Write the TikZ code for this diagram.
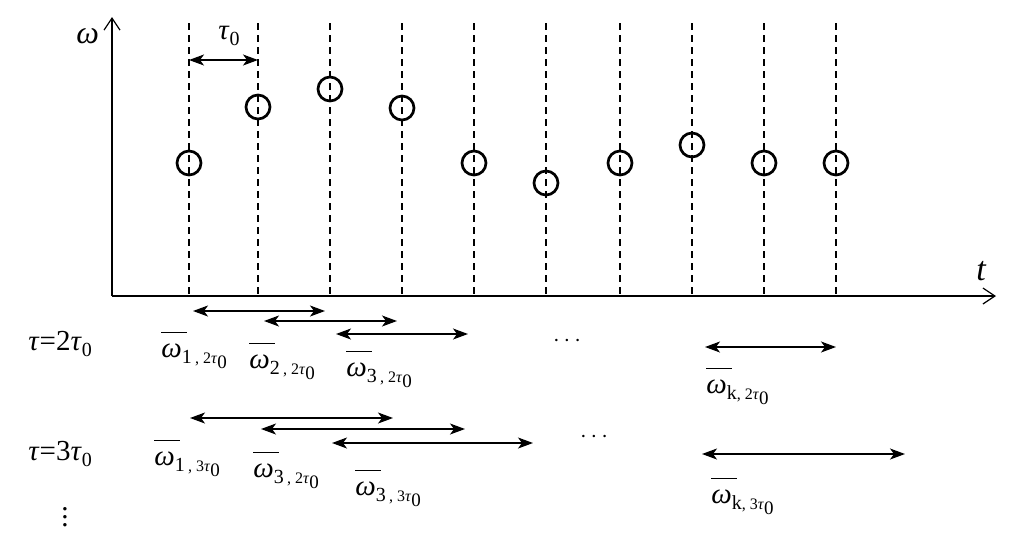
\documentclass[tikz,border=0pt]{standalone}
\usepackage{fontspec}
\setmainfont{Liberation Serif}
\usetikzlibrary{arrows.meta}
\newcommand{\obar}{\makebox[0pt][l]{\hspace{0.0em}\raisebox{0.82em}{\rule{0.88em}{0.6pt}}}\textit{ω}}
\newcommand{\wlab}[2]{\obar\raisebox{-0.22em}{\fontsize{10}{10}\selectfont #1\fontsize{8}{8}\selectfont , #2\textit{τ}\raisebox{-0.3em}{\fontsize{9.5}{9.5}\selectfont 0}}}
\newcommand{\tlab}[1]{\textit{τ}=#1\textit{τ}\raisebox{-0.22em}{\fontsize{10}{10}\selectfont 0}}
\begin{document}
\begin{tikzpicture}[x=0.5pt,y=-0.5pt,
  axis/.style={line width=0.7pt,-{Straight Barb[length=6pt,width=8pt,line width=0.6pt]}},
  grid/.style={line width=0.55pt,dash pattern=on 3.5pt off 2.5pt},
  pt/.style={circle,draw,line width=1.35pt,minimum size=12pt,inner sep=0pt},
  dbl/.style={line width=0.65pt,{Stealth[length=7.5pt,width=5.5pt,inset=2pt]}-{Stealth[length=7.5pt,width=5.5pt,inset=2pt]}},
  lbl/.style={font=\fontsize{14.5}{17}\selectfont,inner sep=0pt,anchor=base west},
  lblc/.style={font=\fontsize{14.5}{17}\selectfont,inner sep=0pt}]
\useasboundingbox (0,0) rectangle (1023,537);
% axes
\coordinate (O) at (112,296);
\coordinate (Ytop) at (112,17);
\coordinate (Xend) at (996,296);
\draw[axis] (O) -- (Ytop);
\draw[axis] (O) -- (Xend);
\node[lbl,font=\fontsize{16}{18}\selectfont] (wl) at (76,43) {\textit{ω}};
\node[lbl,font=\fontsize{17}{19}\selectfont] (tl) at (976,280) {\textit{t}};
% dashed verticals
\foreach \i/\x in {1/189,2/258,3/330,4/402,5/474,6/546,7/620,8/692,9/764,10/836}{
  \coordinate (d\i t) at (\x,23);
  \coordinate (d\i b) at (\x,296);
  \draw[grid] (d\i t) -- (d\i b);
}
% points
\foreach \i/\x/\y in {1/189/163,2/258/107,3/330/89,4/402/108,5/474/163,6/546/183,7/620/163,8/692/145,9/764/163,10/836/163}{
  \node[pt] (c\i) at (\x,\y) {};
}
% tau0
\coordinate (ta) at (189,60);
\coordinate (tb) at (258,60);
\draw[dbl] (ta) -- (tb);
\node[lbl] (t0) at (218,39) {\textit{τ}\raisebox{-0.22em}{\fontsize{10}{10}\selectfont 0}};
% row tau = 2tau0
\node[lbl] (r2) at (28,350) {\tlab{2}};
\coordinate (a1l) at (193,311); \coordinate (a1r) at (325,311);
\coordinate (a2l) at (264,321); \coordinate (a2r) at (397,321);
\coordinate (a3l) at (336,334); \coordinate (a3r) at (468,334);
\coordinate (akl) at (705,347); \coordinate (akr) at (836,347);
\draw[dbl] (a1l) -- (a1r);
\draw[dbl] (a2l) -- (a2r);
\draw[dbl] (a3l) -- (a3r);
\draw[dbl] (akl) -- (akr);
\node[lblc,font=\fontsize{13}{13}\selectfont] (e1) at (567,341) {$\cdots$};
\node[lbl] (w12) at (161,357) {\wlab{1\,}{2}};
\node[lbl] (w22) at (249,368) {\wlab{2\,}{2}};
\node[lbl] (w32) at (346,376) {\wlab{3\,}{2}};
\node[lbl] (wk2) at (706,393) {\wlab{k}{2}};
% row tau = 3tau0
\node[lbl] (r3) at (28,460) {\tlab{3}};
\coordinate (b1l) at (190,418); \coordinate (b1r) at (393,418);
\coordinate (b2l) at (261,429); \coordinate (b2r) at (465,429);
\coordinate (b3l) at (332,443); \coordinate (b3r) at (533,443);
\coordinate (bkl) at (702,454); \coordinate (bkr) at (905,454);
\draw[dbl] (b1l) -- (b1r);
\draw[dbl] (b2l) -- (b2r);
\draw[dbl] (b3l) -- (b3r);
\draw[dbl] (bkl) -- (bkr);
\node[lblc,font=\fontsize{13}{13}\selectfont] (e2) at (594,437) {$\cdots$};
\node[lbl] (w13) at (154,465) {\wlab{1\,}{3}};
\node[lbl] (w33a) at (253,477) {\wlab{3\,}{2}};
\node[lbl] (w33) at (355,495) {\wlab{3\,}{3}};
\node[lbl] (wk3) at (711,503) {\wlab{k}{3}};
\node[lblc] (vd) at (65,511) {$\vdots$};
\end{tikzpicture}
\end{document}
